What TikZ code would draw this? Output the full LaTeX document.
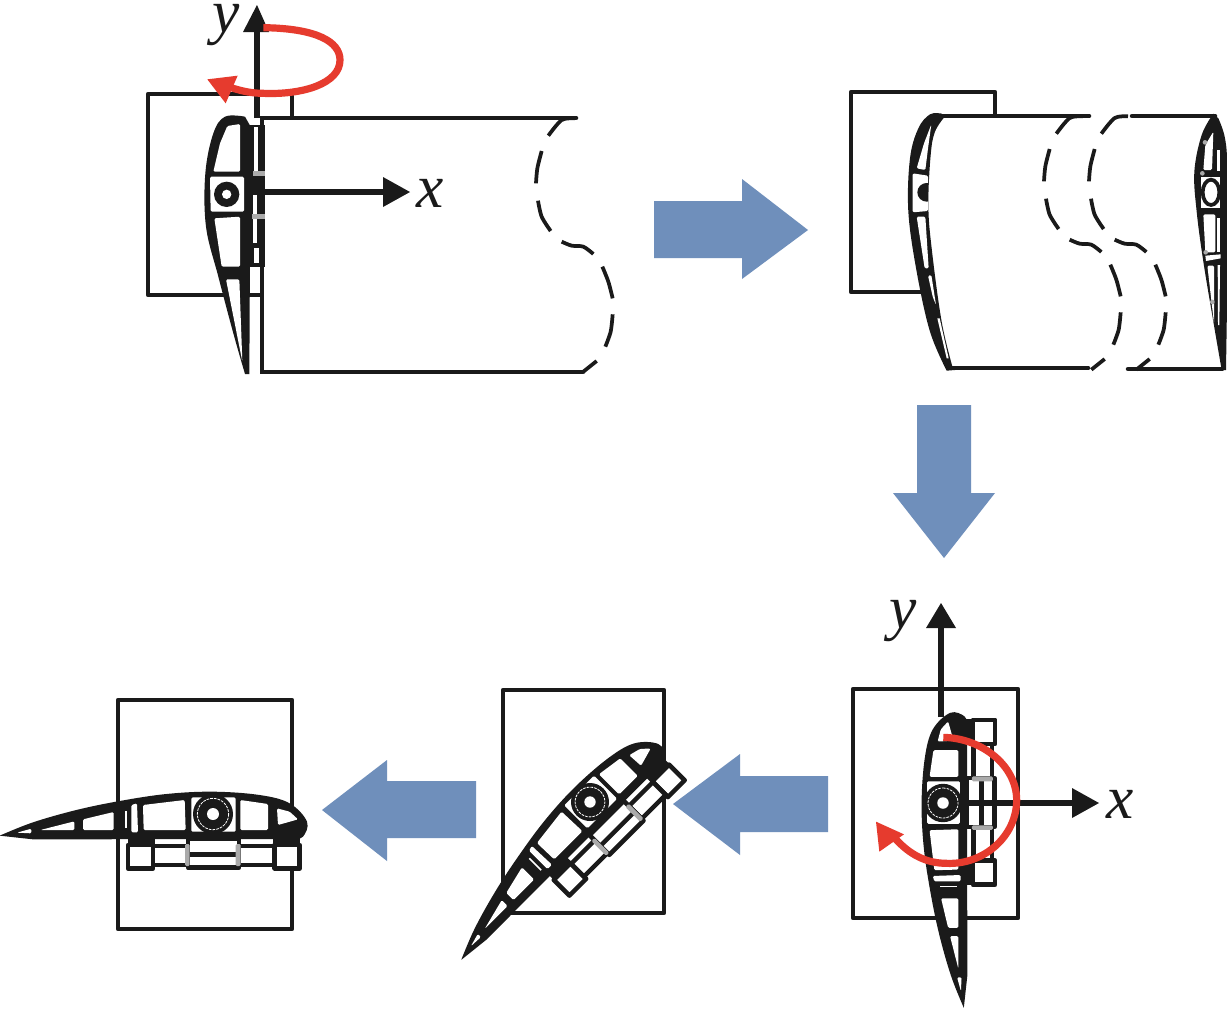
\documentclass[tikz,border=0pt]{standalone}
\usepackage{fontspec}
\setmainfont{Liberation Serif}
\definecolor{ink}{HTML}{1A1A1A}
\definecolor{flowblue}{HTML}{6F8FBB}
\definecolor{turnred}{HTML}{E63B2E}
\definecolor{markgrey}{HTML}{AAAAAA}
\tikzset{
  frameline/.style={draw=ink,line width=3.5pt,line join=round},
  wingline/.style={draw=ink,line width=3.4pt,line cap=round},
  breakline/.style={draw=ink,line width=2.8pt},
  blockarrow/.style={fill=flowblue},
  axisline/.style={draw=ink,line width=3.8pt},
  axishead/.style={fill=ink},
  redline/.style={draw=turnred,line width=5.4pt},
  redhead/.style={fill=turnred},
  axislabel/.style={font=\fontsize{46}{46}\selectfont\itshape,text=ink,inner sep=0pt},
  hole/.style={fill=white,rounded corners=1pt},
  solid ink/.style={fill=ink},
  mark grey/.style={fill=markgrey}
}
% airfoil drawn in local coordinates, pivot at (640,372)
\newcommand{\foilbody}{%
  % actuator
  \draw[draw=ink,line width=3.4pt,fill=white,line join=round] (385,465) rectangle (460,535);
  \draw[draw=ink,line width=3.4pt,fill=white,line join=round] (825,465) rectangle (900,535);
  \draw[draw=ink,line width=3.4pt,fill=white] (460,468) rectangle (565,525);
  \draw[draw=ink,line width=3.4pt,fill=white] (718,468) rectangle (825,525);
  \draw[draw=ink,line width=3.4pt,fill=white,line join=round] (565,445) rectangle (718,533);
  \draw[draw=ink,line width=3.4pt] (565,493) -- (718,493);
  \fill[mark grey,rounded corners=1pt] (556,462) rectangle (570,528);
  \fill[mark grey,rounded corners=1pt] (708,462) rectangle (723,528);
  \fill[solid ink] (820,440) rectangle (902,470);
  \fill[solid ink] (385,440) rectangle (465,470);
  % skin
  \fill[solid ink] plot[smooth,tension=0.6] coordinates {(0,437) (100,397) (230,360) (360,333) (500,312) (640,305) (780,315) (870,340) (922,395) (910,440) (880,447)} -- (100,448) -- cycle;
  % cells
  \fill[hole] (52,428) -- (95,416) -- (95,430) -- cycle;
  \fill[hole] (122,420) -- (224,394) -- (224,420) -- cycle;
  \fill[hole] (250,388) -- (342,366) -- (342,420) -- (250,420) -- cycle;
  \fill[white] (376,362) rectangle (381,415);
  \fill[hole] (395,345) -- (412,340) -- (415,427) -- (395,427) -- cycle;
  \fill[hole] (430,345) -- (555,330) -- (558,420) -- (432,420) -- cycle;
  \fill[hole] (575,322) -- (708,322) -- (708,425) -- (575,425) -- cycle;
  \fill[hole] (722,330) -- (805,342) -- (805,420) -- (722,420) -- cycle;
  \fill[hole] (832,355) -- (870,365) -- (895,388) -- (835,405) -- cycle;
  % pivot
  \fill[solid ink] (640,372) circle (60);
  \draw[white,line width=0.6pt,dash pattern=on 2pt off 0.8pt] (640,372) circle (47);
  \fill[white] (640,372) circle (18);
}
\newcommand{\foilat}[3]{%
  \begin{scope}[shift={#1},rotate=#2,scale=#3]
    \begin{scope}[scale=1/3,shift={(-640,-372)}]
      \foilbody
    \end{scope}
  \end{scope}
}
\newcommand{\breakdashes}{%
  \draw[breakline] plot[smooth] coordinates {(165,40) (125,45) (85,92)};
  \draw[breakline] plot[smooth] coordinates {(65,138) (52,190) (48,235)};
  \draw[breakline] plot[smooth] coordinates {(54,287) (65,335) (92,378)};
  \draw[breakline] plot[smooth] coordinates {(125,410) (155,422) (190,425) (220,447)};
  \draw[breakline] plot[smooth] coordinates {(247,485) (265,530) (278,580)};
  \draw[breakline] plot[smooth] coordinates {(278,628) (272,680) (256,725)};
  \draw[breakline] plot[smooth] coordinates {(230,768) (190,800)};
}
\begin{document}
\begin{tikzpicture}[x=0.75pt,y=-0.75pt]
\useasboundingbox (0,0) rectangle (1227,1008);
\fill[white] (0,0) rectangle (1227,1008);

% ---------- block arrows
\fill[blockarrow] (654,201) -- (742,201) -- (742,179) -- (808,230) -- (742,279) -- (742,258) -- (654,258) -- cycle;
\fill[blockarrow] (917,405) -- (971,405) -- (971,493) -- (995,493) -- (944,558) -- (893,493) -- (917,493) -- cycle;
\fill[blockarrow] (828,776) -- (740,776) -- (740,754) -- (673,804) -- (740,855) -- (740,832) -- (828,832) -- cycle;
\fill[blockarrow] (476,781) -- (387,781) -- (387,760) -- (322,810) -- (387,861) -- (387,838) -- (476,838) -- cycle;

% ---------- panel 1 (top left)
\draw[frameline] (262,295) -- (148,295) -- (148,94) -- (292,94) -- (292,118);
\draw[wingline] (576,118) -- (262,118) -- (262,372) -- (583,372);
\begin{scope}[shift={(520,105)},scale=1/3]
  \breakdashes
\end{scope}
\begin{scope}[shift={(130,0)},scale=1/3]
  \fill[solid ink] plot[smooth,tension=0.6] coordinates {(345,1122) (310,1000) (265,830) (228,680) (226,520) (250,400) (285,350) (345,350)} -- (362,380) -- (358,1122) -- cycle;
  \fill[hole] (250,515) -- (270,430) -- (292,378) -- (330,372) -- (330,515) -- cycle;
  \fill[hole] (240,530) -- (342,530) -- (342,635) -- (242,635) -- cycle;
  \fill[solid ink] (290,583) circle (38);
  \fill[white] (290,583) circle (14);
  \fill[hole] (253,655) -- (330,650) -- (330,800) -- (275,800) -- cycle;
  \fill[hole] (288,838) -- (328,838) -- (337,1085) -- cycle;
  % actuator seen edge-on
  \fill[solid ink] (358,375) rectangle (405,800);
  \fill[white] (373,380) rectangle (385,515);
  \fill[white] (368,585) rectangle (382,730);
  \fill[white] (372,745) rectangle (388,788);
  \fill[mark grey] (368,513) rectangle (404,527);
  \fill[mark grey] (366,642) rectangle (404,656);
\end{scope}
\coordinate (ya) at (257,118);
\coordinate (yb) at (257,5);
\coordinate (xa) at (262,192);
\coordinate (xb) at (410,192);
\draw[axisline] (ya) -- (257,30);
\fill[axishead] (yb) -- (269,32) -- (243,32) -- cycle;
\draw[axisline] (xa) -- (385,192);
\fill[axishead] (xb) -- (383,177) -- (383,207) -- cycle;
\node[axislabel] (ylabA) at (226,25) {y};
\node[axislabel] (xlabA) at (430,193) {x};
\begin{scope}[shift={(130,0)},scale=1/3]
  \draw[redline] (400,83) .. controls (560,85) and (630,125) .. (630,180) .. controls (630,250) and (520,285) .. (400,280) .. controls (370,280) and (340,275) .. (300,262);
  \fill[redhead] (232,238) -- (323,227) -- (287,310) -- cycle;
\end{scope}

% ---------- panel 2 (top right)
\draw[frameline] (925,292) -- (851,292) -- (851,92) -- (995,92) -- (995,116);
\draw[wingline] (932,116) -- (1089,116);
\draw[wingline] (1132,116) -- (1215,116);
\draw[wingline] (950,368) -- (1088,368);
\draw[wingline] (1128,369) -- (1222,369);
\begin{scope}[shift={(1028,103)},scale=1/3]
  \breakdashes
\end{scope}
\begin{scope}[shift={(1073,103)},scale=1/3]
  \breakdashes
\end{scope}
\begin{scope}[shift={(900,105)},scale=1/3]
  \fill[solid ink] plot[smooth,tension=0.6] coordinates {(125,26) (90,28) (55,70) (30,160) (25,320) (50,500) (90,680) (140,797)} -- (165,795) -- plot[smooth,tension=0.6] coordinates {(160,795) (125,650) (95,430) (85,300) (92,150) (105,80) (135,34)} -- cycle;
  \fill[hole] (50,190) -- (72,115) -- (94,58) -- (84,130) -- (76,195) -- cycle;
  \fill[hole] (38,205) -- (84,212) -- (84,318) -- (38,322) -- cycle;
  \begin{scope}
    \clip (40,205) rectangle (84,320);
    \fill[solid ink] (80,262) circle (28);
  \end{scope}
  \fill[hole] (50,335) -- (76,335) -- (86,490) -- (74,490) -- cycle;
  \fill[hole] (84,512) -- (94,510) -- (108,600) -- (98,575) -- cycle;
  \fill[white] (112,640) -- (119,640) -- (146,760) -- (140,760) -- cycle;
\end{scope}
\begin{scope}[shift={(1170,105)},scale=1/3]
  \fill[solid ink] plot[smooth,tension=0.6] coordinates {(130,26) (95,90) (73,200) (80,320) (100,470) (130,650) (155,795)} -- (168,795) -- plot[smooth,tension=0.6] coordinates {(168,790) (172,500) (172,200) (165,100) (145,40)} -- cycle;
  \fill[hole] (106,120) -- (130,80) -- (126,195) -- (100,195) -- cycle;
  \fill[white] (140,135) rectangle (150,198);
  \fill[white] (92,215) rectangle (150,310);
  \draw[draw=ink,line width=2.8pt] (123,262) ellipse (25 and 38);
  \fill[hole] (100,328) -- (136,328) -- (136,442) -- (106,442) -- cycle;
  \fill[white] (142,338) rectangle (150,442);
  \fill[white] (106,452) -- (152,448) -- (152,460) -- (108,468) -- cycle;
  \fill[hole] (112,482) -- (132,482) -- (132,655) -- cycle;
  \fill[white] (143,480) -- (150,480) -- (148,660) -- (144,660) -- cycle;
  \fill[mark grey] (105,112) circle (7);
  \fill[mark grey] (97,205) circle (7);
  \fill[mark grey] (107,442) circle (7);
  \fill[mark grey] (127,591) circle (7);
\end{scope}

% ---------- panel 3 (bottom right)
\draw[frameline] (853,689) rectangle (1018,918);
\foilat{(943,803)}{90}{0.96}
\coordinate (yc) at (941,717);
\coordinate (xc) at (967,803);
\draw[axisline] (yc) -- (941,626);
\fill[axishead] (941,603) -- (956,628) -- (926,628) -- cycle;
\draw[axisline] (xc) -- (1074,803);
\fill[axishead] (1099,803) -- (1072,788) -- (1072,818) -- cycle;
\node[axislabel] (ylabC) at (903,621) {y};
\node[axislabel] (xlabC) at (1120,804) {x};
\begin{scope}[shift={(840,590)},scale=1/3]
  \draw[redline] (310,442) .. controls (430,445) and (530,530) .. (530,630) .. controls (530,740) and (430,825) .. (320,820) .. controls (260,820) and (210,795) .. (165,745);
  \fill[redhead] (108,695) -- (192,733) -- (118,785) -- cycle;
\end{scope}

% ---------- panel 4 (bottom middle)
\draw[frameline] (503,690) rectangle (664,913);
\foilat{(590,802)}{45}{0.95}

% ---------- panel 5 (bottom left)
\draw[frameline] (118,700) rectangle (292,929);
\foilat{(213,814)}{0}{1}
\end{tikzpicture}
\end{document}
